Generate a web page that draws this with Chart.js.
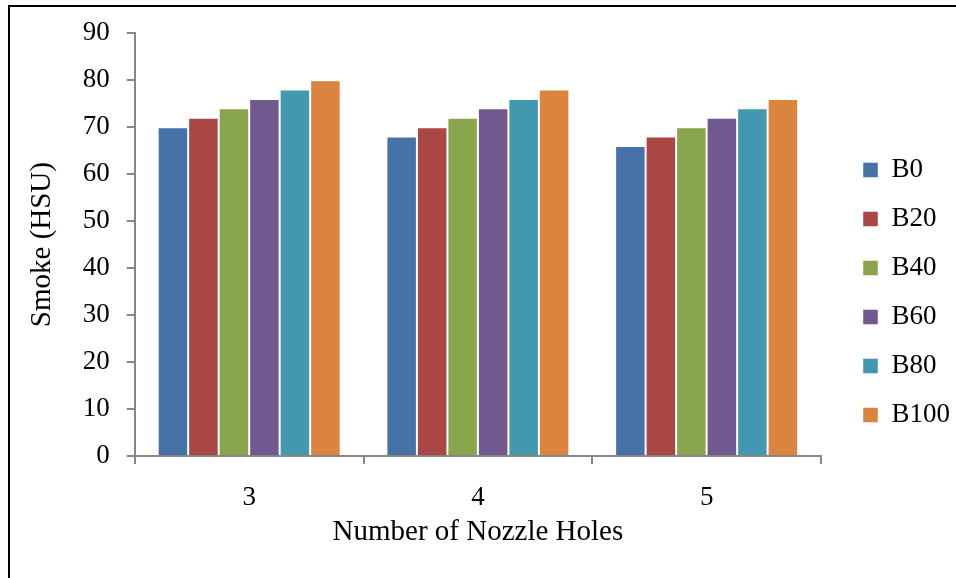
<!DOCTYPE html>
<html>
<head>
<meta charset="utf-8">
<script src="https://cdn.jsdelivr.net/npm/chart.js@4.4.1/dist/chart.umd.min.js"></script>
<style>
  html, body { margin: 0; padding: 0; background: #fff; }
  #wrap { position: relative; width: 956px; height: 578px; overflow: hidden; }
  #frame { position: absolute; left: 8px; top: 5px; width: 1000px; height: 700px;
           border-left: 2px solid #000; border-top: 2px solid #000; }
  #chart { position: absolute; left: 0; top: 0; }
</style>
</head>
<body>
<div id="wrap">
  <div id="frame"></div>
  <canvas id="chart" width="956" height="578"></canvas>
</div>
<script>
// Number of nozzle holes on the x axis
const nozzleHoles = ["3", "4", "5"];

// Smoke opacity (HSU) for each blend
const b0   = [70, 68, 66];
const b20  = [72, 70, 68];
const b40  = [74, 72, 70];
const b60  = [76, 74, 72];
const b80  = [78, 76, 74];
const b100 = [80, 78, 76];

const blendNames = ["B0", "B20", "B40", "B60", "B80", "B100"];
const blendColors = ["#4572A7", "#AA4643", "#89A54E", "#71588F", "#4198AF", "#DB843D"];
const blendValues = [b0, b20, b40, b60, b80, b100];

const fontFamily = "'Liberation Serif', 'Times New Roman', serif";
const axisColor = "#868686";

// legend sits a bit further right / lower than Chart.js puts it
const legendShift = {
    id: "legendShift",
    afterLayout(chart) {
        const lg = chart.legend;
        if (!lg) return;
        const dx = 841 - lg.left;
        lg.left += dx;
        lg.right += dx;
        lg.top += 6;
        lg.bottom += 6;
    },
};

const ctx = document.getElementById("chart");

const chart = new Chart(ctx, {
    type: "bar",
    data: {
        labels: nozzleHoles,
        datasets: blendNames.map((name, i) => ({
            label: name,
            data: blendValues[i],
            backgroundColor: blendColors[i],
            borderColor: "rgba(255,255,255,0.45)",
            borderWidth: 1,
            categoryPercentage: 0.8,
            barPercentage: 1.0,
        })),
    },
    plugins: [legendShift],
    options: {
        responsive: false,
        animation: false,
        layout: {
            padding: { left: 25, top: 26, right: 16, bottom: 31 },
        },
        scales: {
            x: {
                offset: true,
                afterFit: (scale) => {
                    scale.height = 91; // axis line to bottom of the title
                },
                grid: {
                    offset: true,
                    drawOnChartArea: false,
                    drawTicks: true,
                    tickLength: 8,
                    color: axisColor,
                    lineWidth: 2,
                },
                border: { color: axisColor, width: 2 },
                ticks: {
                    color: "#000",
                    padding: 20,
                    font: { family: fontFamily, size: 27, lineHeight: 1 },
                },
                title: {
                    display: true,
                    text: "Number of Nozzle Holes",
                    color: "#000",
                    padding: { top: 0, bottom: 0 },
                    font: { family: fontFamily, size: 29, lineHeight: 1 },
                },
            },
            y: {
                min: 0,
                max: 90,
                grid: {
                    drawOnChartArea: false,
                    drawTicks: true,
                    tickLength: 8,
                    color: axisColor,
                    lineWidth: 2,
                },
                border: { color: axisColor, width: 2 },
                ticks: {
                    stepSize: 10,
                    color: "#000",
                    padding: 17,
                    font: { family: fontFamily, size: 27 },
                },
                title: {
                    display: true,
                    text: "Smoke (HSU)",
                    color: "#000",
                    padding: { top: 0, bottom: 6 },
                    font: { family: fontFamily, size: 29 },
                },
            },
        },
        plugins: {
            legend: {
                position: "right",
                labels: {
                    boxWidth: 15,
                    boxHeight: 15,
                    padding: 22,
                    color: "#000",
                    font: { family: fontFamily, size: 27 },
                },
            },
            tooltip: { enabled: false },
        },
    },
});
</script>
</body>
</html>
